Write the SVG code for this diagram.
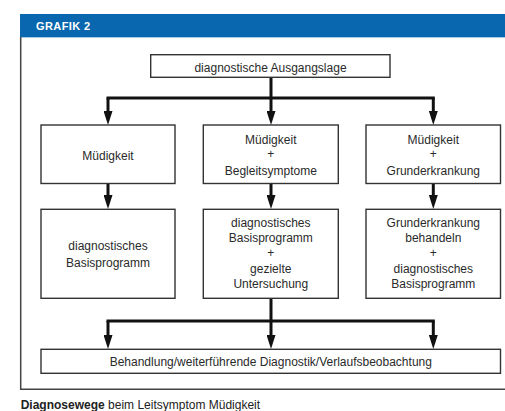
<svg xmlns="http://www.w3.org/2000/svg" width="505" height="411" viewBox="0 0 505 411">
<defs>
<style>
.box{fill:#fff;stroke:#333;stroke-width:1.4}
.t{font-family:"Liberation Sans",Arial,sans-serif;font-size:12px;fill:#2a2a2a;text-anchor:middle}
.c{stroke:#111;stroke-width:3;fill:none}
.a{stroke:#111;stroke-width:3;fill:none;marker-end:url(#ah)}
</style>
<marker id="ah" markerUnits="userSpaceOnUse" markerWidth="14" markerHeight="9" viewBox="0 0 14 9" refX="0" refY="4.5" orient="auto">
<path d="M0,0 L14,4.5 L0,9 z" fill="#111"/>
</marker>
</defs>
<rect width="505" height="411" fill="#fff"/>
<g id="frame">
<rect x="20" y="14" width="490" height="23" fill="#0867ae"/>
<line x1="20" y1="37.5" x2="510" y2="37.5" stroke="#a9cbe6" stroke-width="1"/>
<path d="M20.7,37 V389.3 H510" fill="none" stroke="#444" stroke-width="1.5"/>
<text x="36" y="29.5" font-family="Liberation Sans,Arial,sans-serif" font-size="11" font-weight="bold" fill="#fff" letter-spacing="0.4">GRAFIK 2</text>
</g>
<g id="connectors">
<path class="c" d="M271,77 V98"/>
<path class="c" d="M106.5,98 H434.8"/>
<path class="a" d="M108,98 V111"/>
<path class="a" d="M271,98 V111"/>
<path class="a" d="M433.3,98 V111"/>
<path class="a" d="M108,183.5 V195"/>
<path class="a" d="M271,183.5 V195"/>
<path class="a" d="M433.3,183.5 V195"/>
<path class="c" d="M271,298.5 V321"/>
<path class="c" d="M106.5,321 H434.8"/>
<path class="a" d="M108,321 V335"/>
<path class="a" d="M271,321 V335"/>
<path class="a" d="M433.3,321 V335"/>
</g>
<g id="n0">
<rect class="box" x="150.7" y="54.7" width="239.3" height="22.6"/>
<text class="t" x="270.5" y="71.5">diagnostische Ausgangslage</text>
</g>
<g id="n1">
<rect class="box" x="41" y="125" width="134" height="58.5"/>
<text class="t" x="108" y="159.5">Müdigkeit</text>
</g>
<g id="n2">
<rect class="box" x="203.3" y="125" width="135" height="58.5"/>
<text class="t" x="270.8" y="143.5">Müdigkeit</text>
<text class="t" x="270.8" y="158">+</text>
<text class="t" x="270.8" y="174.5">Begleitsymptome</text>
</g>
<g id="n3">
<rect class="box" x="366" y="125" width="134.5" height="58.5"/>
<text class="t" x="433.3" y="143.5">Müdigkeit</text>
<text class="t" x="433.3" y="158">+</text>
<text class="t" x="433.3" y="174.5">Grunderkrankung</text>
</g>
<g id="n4">
<rect class="box" x="41" y="209.3" width="134" height="89"/>
<text class="t" x="108" y="250">diagnostisches</text>
<text class="t" x="108" y="266.5">Basisprogramm</text>
</g>
<g id="n5">
<rect class="box" x="203.3" y="209.3" width="135" height="89"/>
<text class="t" x="270.8" y="227">diagnostisches</text>
<text class="t" x="270.8" y="242">Basisprogramm</text>
<text class="t" x="270.8" y="257">+</text>
<text class="t" x="270.8" y="273">gezielte</text>
<text class="t" x="270.8" y="288">Untersuchung</text>
</g>
<g id="n6">
<rect class="box" x="366" y="209.3" width="134.5" height="89"/>
<text class="t" x="433.3" y="227">Grunderkrankung</text>
<text class="t" x="433.3" y="242">behandeln</text>
<text class="t" x="433.3" y="257">+</text>
<text class="t" x="433.3" y="273">diagnostisches</text>
<text class="t" x="433.3" y="288">Basisprogramm</text>
</g>
<g id="n7">
<rect class="box" x="41" y="349.3" width="459.5" height="24"/>
<text class="t" x="270.8" y="366">Behandlung/weiterführende Diagnostik/Verlaufsbeobachtung</text>
</g>
<text x="20.7" y="408.5" font-family="Liberation Sans,Arial,sans-serif" font-size="12" fill="#222"><tspan font-weight="bold">Diagnosewege</tspan> beim Leitsymptom Müdigkeit</text>
</svg>
